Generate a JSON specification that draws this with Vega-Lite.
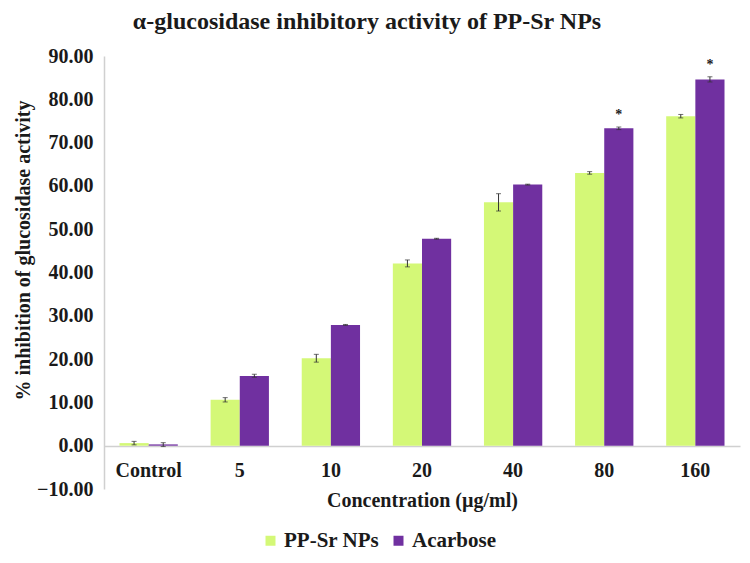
{
  "$schema": "https://vega.github.io/schema/vega-lite/v6.json",
  "autosize": {"type": "none"},
  "padding": {"left": 104, "top": 56, "right": 10, "bottom": 74},
  "width": 636,
  "height": 433,
  "background": "white",
  "config": {
    "view": {"stroke": null},
    "font": "Liberation Serif"
  },
  "title": {
    "text": "α-glucosidase inhibitory activity of PP-Sr NPs",
    "font": "Liberation Serif",
    "fontSize": 24,
    "fontWeight": "bold",
    "color": "#1a1a1a",
    "anchor": "middle",
    "dx": -55,
    "offset": 12
  },
  "data": {
    "values": [
      {"conc": "Control", "group": "PP-Sr NPs", "value": 0.6, "lo": 0.2, "hi": 1.0, "star": ""},
      {"conc": "5", "group": "PP-Sr NPs", "value": 10.6, "lo": 10.1, "hi": 11.1, "star": ""},
      {"conc": "10", "group": "PP-Sr NPs", "value": 20.2, "lo": 19.3, "hi": 21.1, "star": ""},
      {"conc": "20", "group": "PP-Sr NPs", "value": 42.1, "lo": 41.3, "hi": 42.9, "star": ""},
      {"conc": "40", "group": "PP-Sr NPs", "value": 56.2, "lo": 54.2, "hi": 58.2, "star": ""},
      {"conc": "80", "group": "PP-Sr NPs", "value": 63.0, "lo": 62.7, "hi": 63.3, "star": ""},
      {"conc": "160", "group": "PP-Sr NPs", "value": 76.1, "lo": 75.7, "hi": 76.5, "star": ""},
      {"conc": "Control", "group": "Acarbose", "value": 0.3, "lo": -0.2, "hi": 0.7, "star": ""},
      {"conc": "5", "group": "Acarbose", "value": 16.1, "lo": 15.8, "hi": 16.5, "star": ""},
      {"conc": "10", "group": "Acarbose", "value": 27.9, "lo": 27.8, "hi": 28.0, "star": ""},
      {"conc": "20", "group": "Acarbose", "value": 47.8, "lo": 47.7, "hi": 47.9, "star": ""},
      {"conc": "40", "group": "Acarbose", "value": 60.3, "lo": 60.2, "hi": 60.4, "star": ""},
      {"conc": "80", "group": "Acarbose", "value": 73.3, "lo": 73.0, "hi": 73.6, "star": "*"},
      {"conc": "160", "group": "Acarbose", "value": 84.6, "lo": 84.0, "hi": 85.2, "star": "*"}
    ]
  },
  "encoding": {
    "x": {
      "field": "conc",
      "type": "nominal",
      "sort": ["Control", "5", "10", "20", "40", "80", "160"],
      "scale": {"paddingInner": 0.36, "paddingOuter": 0.17},
      "axis": {
        "title": "Concentration (µg/ml)",
        "offset": -43,
        "labelAngle": 0,
        "labelFont": "Liberation Serif",
        "labelFontSize": 20,
        "labelFontWeight": "bold",
        "labelColor": "#1a1a1a",
        "labelPadding": 14,
        "ticks": false,
        "domainColor": "#d0d0d0",
        "domainWidth": 1.5,
        "titleFont": "Liberation Serif",
        "titleFontSize": 20,
        "titleFontWeight": "bold",
        "titleColor": "#1a1a1a",
        "titlePadding": 10
      }
    },
    "xOffset": {"field": "group", "type": "nominal", "sort": ["PP-Sr NPs", "Acarbose"], "scale": {"paddingInner": 0, "paddingOuter": 0}}
  },
  "layer": [
    {
      "mark": {"type": "bar"},
      "encoding": {
        "y": {
          "field": "value",
          "type": "quantitative",
          "scale": {"domain": [-10, 90], "nice": false, "zero": false},
          "axis": {
            "title": "% inhibition of glucosidase activity",
            "values": [-10, 0, 10, 20, 30, 40, 50, 60, 70, 80, 90],
            "format": ".2f",
            "grid": false,
            "ticks": false,
            "domainColor": "#d0d0d0",
            "domainWidth": 1.5,
            "labelFont": "Liberation Serif",
            "labelFontSize": 20,
            "labelFontWeight": "bold",
            "labelColor": "#1a1a1a",
            "labelPadding": 11,
            "titleFont": "Liberation Serif",
            "titleFontSize": 20,
            "titleFontWeight": "bold",
            "titleColor": "#1a1a1a",
            "titlePadding": 3,
            "titleY": 194
          }
        },
        "y2": {"datum": 0},
        "color": {
          "field": "group",
          "type": "nominal",
          "sort": ["PP-Sr NPs", "Acarbose"],
          "scale": {"domain": ["PP-Sr NPs", "Acarbose"], "range": ["#d4f877", "#7030a0"]},
          "legend": {
            "title": null,
            "orient": "none",
            "direction": "horizontal",
            "legendX": 156,
            "legendY": 474,
            "symbolType": "square",
            "symbolSize": 100,
            "symbolStrokeWidth": 0,
            "labelFont": "Liberation Serif",
            "labelFontSize": 21,
            "labelFontWeight": "bold",
            "labelColor": "#1a1a1a",
            "columnPadding": 8,
            "labelOffset": 3
          }
        }
      }
    },
    {
      "mark": {"type": "rule", "color": "#333333", "strokeWidth": 1},
      "encoding": {
        "y": {"field": "lo", "type": "quantitative"},
        "y2": {"field": "hi"}
      }
    },
    {
      "mark": {"type": "tick", "color": "#333333", "thickness": 1, "size": 5},
      "encoding": {
        "y": {"field": "lo", "type": "quantitative"}
      }
    },
    {
      "mark": {"type": "tick", "color": "#333333", "thickness": 1, "size": 5},
      "encoding": {
        "y": {"field": "hi", "type": "quantitative"}
      }
    },
    {
      "mark": {"type": "text", "font": "Liberation Serif", "fontSize": 14, "fontWeight": "bold", "color": "#1a1a1a", "dy": -12},
      "encoding": {
        "y": {"field": "hi", "type": "quantitative"},
        "text": {"field": "star"}
      }
    }
  ]
}
